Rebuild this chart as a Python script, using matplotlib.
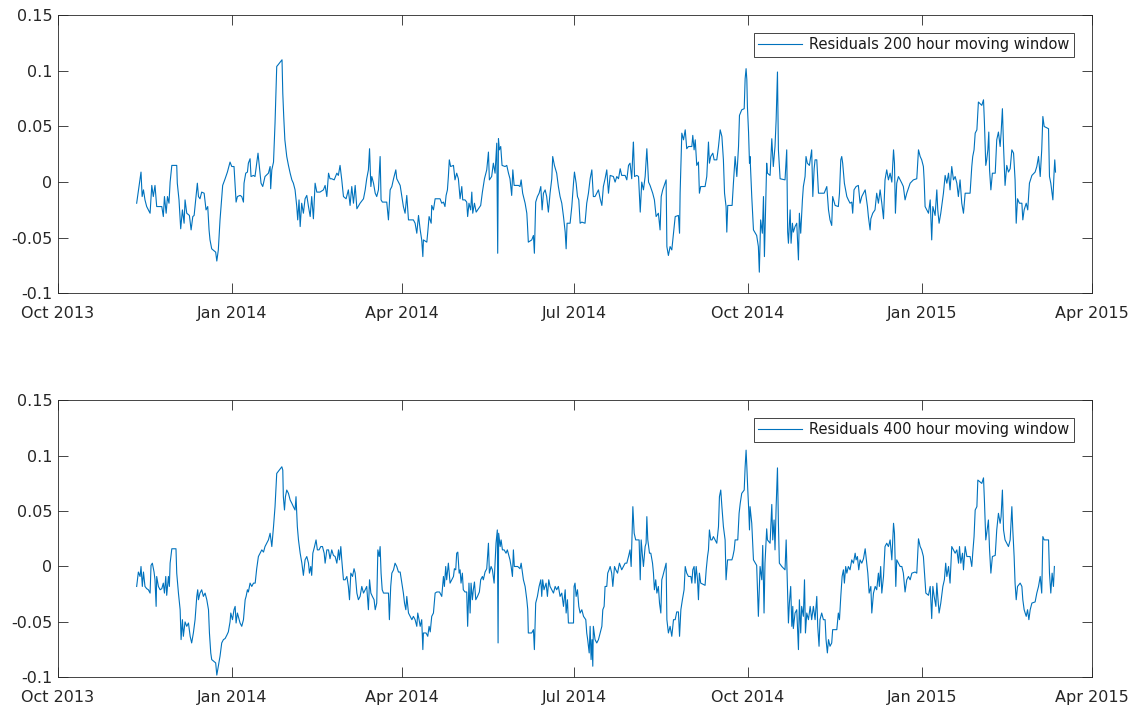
import numpy as np
import pandas as pd
import matplotlib
matplotlib.use("Agg")
import matplotlib.pyplot as plt
import matplotlib.dates as mdates
from matplotlib.ticker import FuncFormatter

plt.rcParams['font.family'] = ['DejaVu Sans']
plt.rcParams['axes.unicode_minus'] = False

BASE_DATE = pd.Timestamp("2013-10-01")
LINE_COLOR = '#0072BD'
AXIS_COLOR = '#262626'

# days since 2013-10-01
days_200 = [
    41.6, 43.9, 44.5, 45.2, 46.0, 46.9, 48.7, 49.6, 50.4, 51.3,
    52.2, 53.1, 54.9, 55.7, 56.3, 57.2, 57.9, 58.7, 59.3, 60.2,
    62.8, 63.1, 64.0, 64.9, 65.8, 66.7, 67.2, 68.1, 69.5, 70.4,
    71.3, 72.0, 72.9, 73.7, 74.3, 75.1, 76.0, 77.3, 78.3, 79.2,
    79.9, 80.4, 81.3, 83.4, 84.0, 84.8, 85.7, 87.1, 88.4, 89.6,
    91.0, 91.9, 93.1, 94.2, 94.9, 96.3, 97.2, 98.1, 98.4, 99.3,
    100.2, 100.7, 101.6, 102.1, 103.4, 104.2, 105.1, 105.8, 106.5, 107.4,
    108.3, 109.5, 111.3, 112.2, 112.5, 113.1, 114.0, 114.8, 115.7, 116.2,
    118.5, 118.9, 119.4, 120.0, 121.0, 121.9, 122.8, 123.7, 124.5, 125.4,
    126.3, 126.8, 127.5, 128.1, 128.9, 129.8, 130.7, 131.6, 132.5, 133.4,
    134.2, 135.1, 136.0, 136.9, 138.6, 140.4, 141.3, 142.2, 143.1, 143.9,
    144.8, 146.1, 147.5, 148.3, 149.2, 150.1, 151.0, 152.4, 153.6, 154.5,
    155.4, 156.3, 157.2, 158.1, 159.8, 161.6, 162.5, 163.3, 164.2, 164.8,
    165.5, 166.0, 166.9, 167.8, 168.6, 169.5, 170.4, 170.9, 171.6, 173.9,
    174.8, 175.7, 176.6, 177.5, 178.7, 179.2, 181.0, 181.9, 182.7, 183.6,
    184.5, 185.4, 186.3, 188.0, 188.9, 189.8, 190.7, 191.6, 192.4, 193.0,
    193.3, 195.1, 195.6, 196.3, 197.4, 197.7, 198.6, 199.5, 201.3,
    202.1, 203.0, 203.9, 204.7, 205.3, 206.0, 206.5, 207.0, 207.7, 209.2,
    210.0, 210.9, 211.8, 212.7, 213.6, 214.1, 215.3, 216.2, 216.7, 217.4,
    218.3, 218.9, 219.4, 220.3, 221.2, 222.4, 223.6, 224.5, 225.6, 226.8,
    227.7, 228.2, 229.4, 230.3, 231.2, 232.1, 232.6, 233.0, 233.5, 234.2,
    234.9, 236.5, 237.4, 238.3, 239.1, 240.0, 240.6, 241.3, 243.6, 244.4,
    245.0, 245.8, 247.1, 248.0, 248.3, 248.8, 250.6, 251.5, 252.0, 252.7,
    253.6, 254.5, 255.4, 256.1, 256.8, 257.7, 258.5, 259.4, 260.3, 261.2,
    261.7, 262.6, 263.8, 264.7, 265.6, 266.5, 267.4, 268.3, 268.8, 269.3,
    270.2, 270.9, 271.8, 272.7, 273.2, 274.1, 274.8, 275.5, 276.2, 277.1,
    278.8, 279.7, 280.6, 281.5, 282.4, 283.2, 284.1, 285.0, 285.9, 286.8,
    287.7, 288.5, 289.4, 290.3, 291.2, 292.1, 293.8, 294.7, 295.6, 296.5,
    297.4, 298.2, 300.0, 300.9, 301.8, 302.6, 303.5, 304.1, 304.4, 305.0,
    306.2, 307.1, 308.0, 308.8, 309.7, 310.6, 311.5, 312.4, 313.2, 314.6,
    315.5, 316.4, 317.6, 318.5, 319.1, 319.9, 321.7, 322.1, 322.9, 323.8,
    324.7, 325.6, 326.5, 328.2, 328.8, 329.1, 329.6, 330.0, 330.9, 331.8,
    332.6, 333.5, 335.3, 335.8, 336.5, 337.1, 337.9, 338.8, 339.3, 340.0,
    342.3, 343.2, 344.1, 344.6, 345.3, 346.4, 347.1, 348.5, 349.4, 350.3,
    351.2, 352.0, 352.6, 353.4, 353.8, 354.3, 356.6, 357.3, 358.2, 359.1,
    360.0, 360.5, 361.7, 363.0, 363.5, 364.0, 364.4, 364.7, 365.3, 365.8,
    366.1, 367.0, 367.9, 369.6, 370.5, 371.0, 371.7, 372.6, 373.2, 373.7,
    374.4, 374.9, 375.3, 376.7, 377.6, 378.4, 379.3, 379.9, 380.6, 381.1,
    382.0, 384.6, 385.5, 386.0, 386.4, 387.3, 387.8, 388.5, 389.0, 389.9,
    390.8, 391.7, 392.2, 392.9, 393.8, 394.3, 395.2, 395.7, 396.4, 397.5,
    398.7, 399.3, 400.0, 400.5, 401.4, 402.3, 404.0, 405.3, 406.7, 407.6,
    408.4, 409.3, 409.8, 411.1, 412.8, 413.4, 414.1, 414.6, 415.1, 416.0,
    417.3, 418.1, 419.0, 419.9, 420.4, 421.1, 422.2, 423.4, 424.3, 425.2,
    426.1, 427.0, 428.2, 428.7, 429.6, 430.0, 431.0, 432.2, 433.1, 434.0,
    434.9, 435.8, 436.7, 437.5, 438.4, 439.3, 440.2, 441.1, 442.0, 442.5,
    443.0, 443.7, 444.6, 446.4, 447.2, 448.1, 449.0, 450.8, 452.5, 454.3,
    455.2, 456.1, 456.9, 457.8, 458.2, 458.7, 460.5, 461.4, 462.2, 462.8,
    464.0, 464.9, 465.4, 466.1, 467.0, 468.4, 469.3, 470.2, 471.1, 471.9,
    472.8, 473.7, 474.6, 475.5, 476.3, 477.2, 478.1, 479.0, 479.9, 482.5,
    483.4, 483.9, 484.6, 485.2, 486.1, 486.9, 488.7, 489.6, 490.1, 490.8,
    491.3, 491.9, 492.4, 492.8, 493.5, 494.3, 495.8, 496.6, 497.5, 498.4,
    498.9, 499.6, 500.2, 501.0, 501.9, 502.8, 503.7, 504.6, 505.5, 506.3,
    506.9, 507.6, 508.6, 509.9, 510.4, 511.1, 512.2, 513.0, 513.9, 515.2,
    516.9, 517.8, 518.7, 519.6, 520.4, 521.0, 521.7, 524.0, 524.5, 525.2,
    526.3, 527.0, 527.3, 527.7,
]

resid_200 = [
    -0.019, 0.009, -0.013, -0.007, -0.016, -0.022, -0.028, -0.003, -0.013, -0.003,
    -0.022, -0.022, -0.022, -0.031, -0.013, -0.028, -0.013, -0.019, 0.000, 0.015,
    0.015, -0.001, -0.016, -0.042, -0.025, -0.037, -0.016, -0.028, -0.030, -0.043,
    -0.031, -0.030, -0.015, -0.001, -0.013, -0.015, -0.009, -0.010, -0.025, -0.022,
    -0.043, -0.052, -0.060, -0.063, -0.071, -0.061, -0.034, -0.003, 0.003, 0.009,
    0.018, 0.014, 0.014, -0.018, -0.013, -0.012, -0.013, -0.018, -0.001, 0.008,
    0.009, 0.017, 0.021, 0.005, 0.006, 0.005, 0.017, 0.026, 0.014, -0.001,
    -0.004, 0.005, 0.008, 0.014, -0.006, 0.011, 0.018, 0.053, 0.104, 0.105,
    0.110, 0.080, 0.059, 0.038, 0.023, 0.015, 0.008, 0.002, -0.001, -0.007,
    -0.022, -0.034, -0.016, -0.040, -0.019, -0.028, -0.015, -0.012, -0.022, -0.031,
    -0.013, -0.033, -0.001, -0.009, -0.009, -0.007, -0.003, -0.013, 0.008, 0.003,
    0.003, 0.002, 0.008, 0.006, 0.015, 0.002, -0.013, -0.015, -0.007, -0.021,
    -0.004, -0.019, -0.003, -0.024, -0.019, -0.015, -0.007, 0.003, 0.011, 0.030,
    -0.004, 0.005, -0.001, -0.010, -0.013, -0.007, 0.023, -0.016, -0.018, -0.018,
    -0.034, -0.007, -0.004, 0.003, 0.011, 0.003, -0.003, -0.013, -0.022, -0.028,
    -0.012, -0.034, -0.034, -0.034, -0.037, -0.046, -0.030, -0.043, -0.052, -0.067,
    -0.052, -0.054, -0.045, -0.031, -0.037, -0.021, -0.025, -0.015, -0.015,
    -0.015, -0.019, -0.018, -0.022, -0.012, -0.007, 0.005, 0.020, 0.014, 0.015,
    0.002, 0.008, 0.003, -0.015, -0.004, -0.016, -0.016, -0.018, -0.031, -0.019,
    -0.025, -0.009, -0.028, -0.019, -0.027, -0.024, -0.021, -0.009, 0.003, 0.011,
    0.027, 0.002, 0.005, 0.017, 0.008, 0.035, -0.064, 0.039, 0.029, 0.032,
    0.015, 0.014, 0.015, 0.008, 0.003, -0.012, 0.011, -0.003, -0.003, -0.004,
    0.002, -0.010, -0.019, -0.028, -0.037, -0.054, -0.052, -0.048, -0.064, -0.018,
    -0.013, -0.010, -0.004, -0.025, -0.010, -0.007, -0.013, -0.027, -0.010, 0.003,
    0.023, 0.015, 0.008, -0.004, -0.013, -0.019, -0.031, -0.045, -0.060, -0.037,
    -0.037, -0.037, -0.022, -0.001, 0.009, -0.001, -0.013, -0.016, -0.037, -0.036,
    -0.037, -0.019, -0.010, 0.003, 0.011, -0.013, -0.013, -0.010, -0.007, -0.015,
    -0.021, -0.004, 0.003, 0.011, -0.010, 0.006, 0.005, 0.000, 0.005, 0.003,
    0.012, 0.006, 0.006, 0.002, 0.015, 0.017, 0.003, 0.027, 0.036, 0.005,
    0.006, 0.005, -0.027, 0.000, -0.007, 0.005, 0.030, 0.000, -0.003, -0.010,
    -0.016, -0.031, -0.028, -0.043, -0.013, -0.007, 0.002, -0.058, -0.066, -0.058,
    -0.061, -0.046, -0.031, -0.030, -0.046, -0.010, 0.020, 0.044, 0.038, 0.047,
    0.030, 0.032, 0.032, 0.042, 0.029, 0.038, 0.015, 0.018, -0.010, -0.004,
    -0.004, 0.005, 0.036, 0.017, 0.023, 0.026, 0.020, 0.020, 0.032, 0.047,
    0.041, 0.020, -0.010, -0.022, -0.045, -0.021, -0.021, -0.001, 0.023, 0.005,
    0.032, 0.060, 0.065, 0.066, 0.093, 0.102, 0.092, 0.068, 0.045, 0.017,
    0.023, -0.013, -0.043, -0.048, -0.058, -0.081, -0.034, -0.046, -0.013, -0.067,
    -0.016, 0.017, 0.008, 0.006, 0.039, 0.014, 0.032, 0.056, 0.099, 0.029,
    0.003, 0.002, 0.029, -0.045, -0.055, -0.025, -0.055, -0.037, -0.045, -0.040,
    -0.037, -0.070, -0.028, -0.046, -0.016, -0.004, 0.005, 0.023, 0.017, 0.015,
    0.029, -0.013, 0.012, 0.020, 0.020, -0.010, -0.010, -0.010, -0.004, -0.025,
    -0.034, -0.039, -0.013, -0.021, -0.022, -0.010, 0.020, 0.023, 0.017, -0.001,
    -0.013, -0.016, -0.019, -0.018, -0.028, -0.007, -0.004, -0.003, -0.019, -0.013,
    -0.010, -0.007, -0.022, -0.031, -0.043, -0.033, -0.028, -0.025, -0.010, -0.019,
    -0.007, -0.019, -0.033, 0.002, 0.011, 0.002, 0.008, 0.000, 0.029, 0.017,
    -0.028, -0.001, 0.005, -0.001, -0.004, -0.016, -0.010, -0.001, 0.002, 0.003,
    0.029, 0.023, 0.020, 0.014, 0.002, -0.022, -0.028, -0.016, -0.052, -0.022,
    -0.030, -0.007, -0.025, -0.037, -0.028, -0.010, 0.006, -0.001, 0.008, -0.007,
    0.014, 0.002, 0.005, -0.001, -0.013, 0.002, -0.019, -0.028, -0.010, -0.010,
    0.014, 0.023, 0.029, 0.044, 0.047, 0.072, 0.069, 0.074, 0.053, 0.015,
    0.020, 0.029, 0.045, 0.011, -0.007, 0.008, 0.008, 0.038, 0.045, 0.032,
    0.044, 0.066, 0.032, -0.003, 0.015, 0.009, 0.012, 0.029, 0.026, 0.002,
    -0.037, -0.015, -0.019, -0.019, -0.034, -0.025, -0.019, -0.025, -0.001, 0.006,
    0.009, 0.014, 0.023, 0.005, 0.029, 0.059, 0.050, 0.048, 0.005, -0.001,
    -0.016, 0.011, 0.020, 0.009,
]

days_400 = [
    41.6, 42.5, 43.4, 43.9, 44.6, 45.2, 46.0, 46.9, 47.8, 48.7,
    49.2, 49.9, 50.8, 51.3, 51.9, 52.2, 53.1, 54.0, 54.9, 55.7,
    56.3, 57.0, 57.5, 58.4, 58.9, 59.3, 60.2, 62.4, 62.8, 63.7,
    64.6, 65.1, 65.8, 66.3, 67.2, 68.1, 69.0, 69.9, 70.7, 71.6,
    72.5, 73.4, 73.9, 74.3, 75.1, 76.0, 76.9, 77.8, 78.7, 79.6,
    80.1, 80.8, 81.3, 83.4, 84.0, 84.8, 85.7, 86.6, 87.5, 88.4,
    89.3, 90.1, 91.0, 91.4, 92.3, 93.1, 93.7, 94.2, 94.9, 96.3,
    97.2, 98.1, 99.0, 99.5, 100.2, 100.7, 101.6, 102.5, 103.4, 104.3,
    105.1, 106.0, 106.9, 107.8, 108.7, 109.5, 110.4, 111.3, 112.2, 113.1,
    114.0, 114.8, 115.7, 116.6, 118.4, 118.9, 119.2, 119.8, 120.3, 121.0,
    121.9, 122.8, 123.7, 124.5, 125.4, 125.9, 126.6, 127.2, 128.1, 129.0,
    129.8, 130.7, 131.6, 132.5, 133.0, 133.7, 134.2, 134.8, 135.7, 136.5,
    137.2, 138.1, 139.0, 139.9, 140.8, 141.3, 142.2, 143.1, 143.9, 144.8,
    145.7, 146.6, 147.5, 148.4, 148.9, 149.6, 150.1, 151.0, 151.9, 152.8,
    153.6, 154.2, 154.9, 155.8, 156.6, 157.2, 158.1, 158.9, 159.8, 160.7,
    161.6, 162.5, 163.3, 164.2, 164.8, 165.5, 166.3, 167.2, 167.8, 168.6,
    169.2, 169.9, 170.4, 170.9, 171.5, 172.2, 174.8, 175.3, 176.0, 176.6,
    177.5, 178.3, 179.2, 180.1, 181.0, 181.9, 182.7, 183.3, 184.0, 184.5,
    185.4, 186.3, 187.2, 188.0, 188.9, 189.8, 190.3, 191.0, 191.6, 192.4,
    193.0, 193.3, 194.7, 195.6, 196.3, 196.9, 197.7, 198.6, 199.5, 200.4,
    201.8,
    202.1, 203.0, 203.9, 204.4, 205.1, 205.6, 206.5, 207.4, 208.3, 209.2,
    209.7, 210.4, 210.9, 211.5, 212.2, 212.7, 213.2, 213.9, 214.4, 215.3,
    216.2, 216.7, 217.4, 218.0, 218.5, 219.2, 219.7, 220.3, 221.0, 221.9,
    222.9, 223.6, 224.5, 225.0, 225.9, 226.8, 227.7, 228.2, 229.1, 229.8,
    230.7, 231.2, 231.7, 232.4, 232.8, 233.1, 233.9, 234.4, 235.1, 236.0,
    237.0, 237.7, 238.6, 239.1, 239.7, 240.4, 240.9, 241.4, 243.2, 244.4,
    245.0, 245.7, 246.2, 247.1, 248.0, 248.5, 248.8, 250.6, 251.5, 252.0,
    252.7, 253.6, 254.5, 255.4, 255.9, 256.4, 257.1, 258.2, 258.9, 259.6,
    260.3, 262.1, 263.0, 263.8, 264.7, 265.6, 266.5, 267.4, 268.3, 268.8,
    269.5, 270.0, 272.7, 273.0, 273.5, 274.1, 274.8, 275.5, 276.2, 277.1,
    278.0, 279.2, 279.7, 280.2, 281.0, 281.5, 282.0, 282.5, 282.9, 283.2,
    284.1, 285.0, 285.9, 286.8, 287.7, 288.2, 288.9, 289.4, 290.3, 290.8,
    291.5, 292.1, 292.9, 293.5, 293.8, 294.4, 295.1, 296.0, 297.0, 298.2,
    299.1, 300.0, 300.9, 301.8, 302.6, 303.2, 303.7, 304.1, 304.8, 305.6,
    307.4, 308.0, 308.5, 309.2, 309.7, 310.6, 311.1, 311.5, 312.0, 312.9,
    313.6, 314.5, 315.0, 315.5, 316.2, 316.8, 317.6, 318.2, 318.9, 319.4,
    319.9, 320.8, 321.7, 322.1, 322.9, 323.8, 324.7, 325.6, 326.5, 327.3,
    328.2, 328.8, 329.5, 330.3, 331.2, 331.8, 332.6, 333.5, 334.8, 335.3,
    335.8, 336.5, 337.0, 337.6, 338.3, 338.8, 339.3, 340.0, 342.3, 342.9,
    343.6, 344.1, 344.6, 345.3, 346.0, 346.7, 347.6, 348.5, 349.4, 349.9,
    350.6, 351.2, 352.0, 352.9, 353.4, 354.2, 356.5, 357.0, 357.7, 358.2,
    359.6, 360.3, 360.9, 361.7, 363.0, 363.5, 364.0, 364.4, 364.9, 365.4,
    365.8,
    366.1, 367.0, 367.9, 369.6, 370.5, 371.4, 372.3, 372.8, 373.5, 374.0,
    374.9, 375.3, 376.7, 377.6, 378.1, 378.8, 379.3, 379.9, 380.6, 381.1,
    381.6, 382.9, 384.6, 385.2, 385.9, 386.4, 386.9, 387.6, 388.2, 388.7,
    389.0, 389.9, 390.8, 391.7, 392.2, 392.9, 393.4, 394.3, 394.9, 395.4,
    396.1, 397.0, 397.9, 398.7, 399.6, 400.5, 401.4, 401.9, 402.6, 403.1,
    404.0, 404.9, 405.8, 406.3, 407.0, 407.6, 408.4, 409.3, 409.8, 412.0,
    412.8, 413.4, 414.1, 414.8, 415.5, 416.0, 416.7, 417.3, 418.1, 419.0,
    419.9, 420.8, 421.7, 422.2, 422.9, 423.6, 424.3, 425.2, 426.1, 427.0,
    427.8, 428.4, 429.1, 430.0, 430.5, 431.4, 432.3, 433.1, 434.0, 434.5,
    435.2, 435.8, 436.7, 437.5, 438.4, 439.3, 440.2, 441.1, 442.0, 442.5,
    443.2, 443.7, 445.5, 446.4, 447.2, 448.1, 449.0, 449.9, 450.8, 451.7,
    453.4, 454.3, 455.2, 456.1, 456.9, 457.8, 458.4, 459.1, 460.5, 461.4,
    462.2, 462.8, 463.5, 464.4, 464.9, 465.4, 466.1, 467.0, 468.1, 468.9,
    469.6, 470.2, 471.1, 471.9, 472.8, 473.7, 474.6, 475.5, 476.4, 476.9,
    477.6, 478.5, 479.0, 479.9, 480.8, 482.5, 483.4, 483.9, 484.6, 485.2,
    486.1, 486.6, 488.7, 489.6, 490.1, 490.8, 491.3, 492.2, 492.8, 493.5,
    494.3, 495.8, 496.6, 497.5, 498.4, 498.9, 499.6, 500.2, 501.0, 501.9,
    502.8, 503.7, 504.6, 505.1, 505.8, 506.3, 506.9, 507.6, 509.0, 509.9,
    510.4, 511.1, 512.2, 512.9, 513.6, 514.3, 515.2, 516.9, 517.8, 518.7,
    519.6, 520.4, 521.0, 521.7, 524.0, 524.5, 525.2, 525.9, 526.6, 527.1,
]

resid_400 = [
    -0.018, -0.005, -0.009, 0.000, -0.018, -0.005, -0.018, -0.020, -0.021, -0.024,
    0.001, 0.003, -0.005, -0.012, -0.036, -0.009, -0.018, -0.021, -0.020, -0.015,
    -0.024, -0.009, -0.026, -0.009, -0.018, 0.003, 0.016, 0.016, -0.006, -0.024,
    -0.039, -0.066, -0.048, -0.063, -0.050, -0.054, -0.051, -0.063, -0.069, -0.060,
    -0.048, -0.027, -0.021, -0.030, -0.024, -0.021, -0.027, -0.024, -0.030, -0.039,
    -0.060, -0.078, -0.084, -0.087, -0.098, -0.090, -0.081, -0.069, -0.066, -0.065,
    -0.062, -0.059, -0.050, -0.042, -0.048, -0.039, -0.036, -0.051, -0.042, -0.051,
    -0.054, -0.048, -0.030, -0.027, -0.021, -0.023, -0.015, -0.018, -0.015, -0.015,
    -0.002, 0.009, 0.012, 0.015, 0.013, 0.018, 0.021, 0.024, 0.030, 0.018,
    0.036, 0.054, 0.084, 0.086, 0.090, 0.087, 0.063, 0.051, 0.063, 0.069,
    0.066, 0.060, 0.057, 0.054, 0.051, 0.063, 0.036, 0.024, 0.012, 0.003,
    -0.008, 0.006, 0.009, 0.003, -0.006, 0.000, -0.008, 0.012, 0.018, 0.024,
    0.015, 0.015, 0.018, 0.018, 0.012, 0.003, 0.015, 0.015, 0.007, 0.015,
    0.010, 0.009, 0.003, 0.015, 0.006, 0.018, 0.006, -0.012, -0.012, -0.009,
    -0.018, -0.030, -0.006, -0.009, -0.002, -0.006, -0.024, -0.030, -0.027, -0.018,
    -0.024, -0.021, -0.018, -0.039, -0.012, -0.024, -0.027, -0.030, -0.039, -0.033,
    0.015, 0.009, 0.018, -0.006, -0.021, -0.024, -0.024, -0.048, -0.018, -0.006,
    -0.003, 0.003, 0.000, -0.005, -0.005, -0.015, -0.024, -0.033, -0.039, -0.027,
    -0.042, -0.045, -0.048, -0.045, -0.048, -0.054, -0.042, -0.048, -0.054, -0.048,
    -0.075, -0.060, -0.060, -0.063, -0.054, -0.059, -0.045, -0.042, -0.024, -0.023,
    -0.023,
    -0.024, -0.027, -0.009, -0.018, 0.000, -0.012, 0.003, -0.015, -0.012, -0.009,
    -0.002, -0.003, 0.012, 0.013, -0.006, -0.003, -0.015, -0.006, -0.021, -0.023,
    -0.023, -0.054, -0.015, -0.042, -0.015, -0.030, -0.021, -0.014, -0.030, -0.027,
    -0.023, -0.012, -0.009, -0.012, -0.005, -0.002, 0.021, -0.006, 0.000, -0.003,
    -0.015, 0.003, 0.021, 0.033, -0.069, 0.030, 0.018, 0.024, 0.015, 0.015,
    0.012, 0.015, 0.009, 0.006, 0.000, -0.009, 0.015, 0.000, 0.000, -0.002,
    0.003, -0.006, -0.012, -0.018, -0.030, -0.039, -0.060, -0.060, -0.057, -0.075,
    -0.033, -0.027, -0.018, -0.012, -0.027, -0.012, -0.021, -0.015, -0.027, -0.012,
    -0.018, -0.024, -0.018, -0.021, -0.018, -0.027, -0.024, -0.036, -0.021, -0.042,
    -0.030, -0.051, -0.051, -0.018, -0.015, -0.027, -0.021, -0.036, -0.042, -0.039,
    -0.045, -0.048, -0.060, -0.066, -0.078, -0.054, -0.084, -0.066, -0.090, -0.054,
    -0.066, -0.069, -0.066, -0.060, -0.054, -0.039, -0.036, -0.018, -0.018, -0.006,
    -0.003, 0.000, -0.006, -0.018, -0.012, 0.000, -0.003, -0.006, 0.003, -0.003,
    0.000, 0.003, 0.003, 0.009, 0.015, 0.000, 0.030, 0.054, 0.030, 0.024,
    0.024, -0.012, 0.024, 0.009, 0.000, 0.018, 0.021, 0.045, 0.024, 0.012,
    0.012, 0.003, -0.006, -0.021, -0.012, -0.024, -0.018, -0.033, -0.042, -0.012,
    -0.009, -0.003, 0.003, -0.048, -0.060, -0.054, -0.063, -0.048, -0.048, -0.041,
    -0.041, -0.063, -0.039, -0.030, -0.021, 0.000, -0.006, -0.009, -0.009, -0.015,
    -0.003, 0.000, -0.015, 0.000, -0.012, -0.030, -0.006, -0.015, -0.017, -0.003,
    0.009, 0.015, 0.033, 0.024, 0.024, 0.027, 0.024, 0.021, 0.036, 0.063,
    0.069, 0.054, 0.036, 0.024, -0.012, 0.006, 0.006, 0.009, 0.015, 0.024,
    0.024, 0.048, 0.057, 0.066, 0.069, 0.090, 0.105, 0.090, 0.069, 0.051,
    0.033,
    0.054, 0.039, 0.006, 0.001, -0.045, 0.000, -0.012, 0.019, -0.042, 0.003,
    0.034, 0.024, 0.021, 0.056, 0.024, 0.042, 0.015, 0.054, 0.089, 0.039,
    0.003, 0.000, -0.003, 0.024, -0.018, -0.051, -0.033, -0.018, -0.054, -0.036,
    -0.056, -0.042, -0.039, -0.075, -0.030, -0.060, -0.036, -0.045, -0.012, -0.060,
    -0.042, -0.048, -0.036, -0.048, -0.036, -0.048, -0.027, -0.054, -0.072, -0.048,
    -0.042, -0.048, -0.048, -0.066, -0.078, -0.066, -0.072, -0.069, -0.057, -0.057,
    -0.042, -0.048, -0.027, -0.009, -0.003, -0.015, 0.000, -0.006, 0.000, -0.003,
    0.006, 0.003, 0.012, 0.006, 0.009, -0.003, 0.006, 0.003, 0.007, 0.016,
    0.003, -0.006, -0.024, -0.018, -0.042, -0.024, -0.018, -0.021, -0.006, -0.018,
    0.000, -0.024, -0.009, 0.018, 0.021, 0.018, 0.024, 0.006, 0.039, 0.030,
    -0.018, 0.006, 0.000, 0.000, -0.006, -0.023, -0.012, -0.009, -0.012, -0.006,
    -0.005, -0.006, 0.025, 0.018, 0.015, 0.009, -0.006, -0.024, -0.026, -0.018,
    -0.047, -0.018, -0.027, -0.036, -0.015, -0.027, -0.042, -0.033, -0.018, -0.012,
    0.003, -0.009, 0.000, -0.015, 0.018, 0.015, 0.012, 0.015, 0.003, 0.018,
    0.003, 0.012, -0.003, 0.018, 0.009, 0.009, 0.000, 0.012, 0.027, 0.051,
    0.054, 0.078, 0.075, 0.080, 0.059, 0.024, 0.030, 0.042, 0.015, -0.006,
    0.009, 0.010, 0.033, 0.048, 0.039, 0.045, 0.069, 0.033, 0.024, 0.021,
    0.018, 0.024, 0.054, 0.033, 0.009, -0.015, -0.030, -0.018, -0.015, -0.018,
    -0.030, -0.039, -0.045, -0.039, -0.048, -0.039, -0.033, -0.032, -0.024, -0.018,
    -0.009, -0.024, 0.027, 0.024, 0.024, -0.006, -0.024, -0.006, -0.018, 0.000,
]

y_ticks = [-0.1, -0.05, 0, 0.05, 0.1, 0.15]
x_start = pd.Timestamp("2013-10-01")
x_end = pd.Timestamp("2015-04-01")
labels = ["Residuals 200 hour moving window", "Residuals 400 hour moving window"]


def to_dates(days):
    return BASE_DATE + pd.to_timedelta(np.asarray(days), unit="D")


def style_axis(ax):
    # matlab look: grey box, inward ticks on every side
    ax.set_xlim(x_start, x_end)
    ax.set_ylim(-0.1, 0.15)
    ax.set_yticks(y_ticks)
    ax.yaxis.set_major_formatter(FuncFormatter(lambda v, _: f"{v:g}"))
    ax.xaxis.set_major_locator(mdates.MonthLocator(bymonth=[1, 4, 7, 10]))
    ax.xaxis.set_major_formatter(mdates.DateFormatter("%b %Y"))
    ax.tick_params(direction="in", length=7, width=0.6, top=True, right=True,
                   labelsize=11.5, colors=AXIS_COLOR)
    ax.tick_params(axis="x", pad=9)
    ax.tick_params(axis="y", pad=4)
    for s in ax.spines.values():
        s.set_color(AXIS_COLOR)
        s.set_linewidth(0.6)


def plot_panel(ax, days, resid, label):
    ax.plot(to_dates(days), resid, color=LINE_COLOR, linewidth=0.8, label=label)
    style_axis(ax)
    leg = ax.legend(loc="upper right", bbox_to_anchor=(0.9826, 0.936),
                    borderaxespad=0, fancybox=False, framealpha=1,
                    edgecolor=AXIS_COLOR, fontsize=10.5, handlelength=3.0,
                    handletextpad=0.5, borderpad=0.3)
    leg.get_frame().set_linewidth(0.6)
    for t in leg.get_texts():
        t.set_color('#1a1a1a')


fig = plt.figure(figsize=(11.4, 7.11), dpi=100)
ax_top = fig.add_axes([0.0509, 0.5875, 0.907, 0.391])
ax_bot = fig.add_axes([0.0509, 0.0474, 0.907, 0.3896])

plot_panel(ax_top, days_200, resid_200, labels[0])
plot_panel(ax_bot, days_400, resid_400, labels[1])

fig.savefig("out.png", dpi=100)
